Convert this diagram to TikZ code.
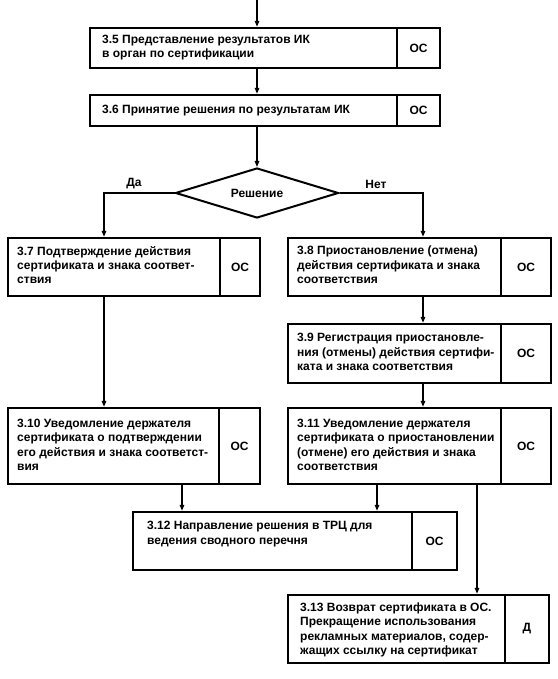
\documentclass[tikz,border=0pt]{standalone}
\usepackage{fontspec}
\setmainfont{Liberation Sans}
\usetikzlibrary{arrows.meta,shapes.geometric}
\begin{document}
\begin{tikzpicture}[x=1pt,y=-1pt,
  box/.style={draw, line width=2.4pt, inner sep=0pt},
  txt/.style={font=\bfseries\fontsize{12}{14.4}\selectfont, align=left, anchor=west, inner sep=0pt},
  lbl/.style={font=\bfseries\fontsize{12}{14.4}\selectfont, inner sep=0pt},
  divider/.style={line width=1.6pt},
  conn/.style={line width=1.4pt},
  arr/.style={line width=1.4pt, -{Triangle[length=6pt,width=4.5pt]}},
  dec/.style={diamond, draw, line width=2pt, aspect=3.2, inner sep=0pt, minimum width=163pt, minimum height=50pt, font=\bfseries\fontsize{12}{14.4}\selectfont}
]
\useasboundingbox (0,0) rectangle (557,679);
\fill[white] (0,0) rectangle (557,679);

% column coordinates
\coordinate (top) at (257,0);
\coordinate (c1) at (104,0);
\coordinate (c2) at (423,0);
\coordinate (c3) at (182,0);
\coordinate (c4) at (377,0);
\coordinate (c5) at (477,0);

% boxes
\node[box, minimum width=350pt, minimum height=40pt] (b35) at (265,48) {};
\node[box, minimum width=350pt, minimum height=31pt] (b36) at (265,110.5) {};
\node[dec] (d) at (257,193) {Решение};
\node[box, minimum width=252pt, minimum height=58pt] (b37) at (134,267) {};
\node[box, minimum width=263pt, minimum height=58pt] (b38) at (419.5,267) {};
\node[box, minimum width=263pt, minimum height=59pt] (b39) at (419.5,353.5) {};
\node[box, minimum width=252pt, minimum height=76pt] (b310) at (134,446) {};
\node[box, minimum width=263pt, minimum height=76pt] (b311) at (419.5,446) {};
\node[box, minimum width=324pt, minimum height=58pt] (b312) at (295,541) {};
\node[box, minimum width=261pt, minimum height=68pt] (b313) at (418.5,629) {};

% dividers
\draw[divider] (397,28) -- (397,68);
\draw[divider] (397,95) -- (397,126);
\draw[divider] (220,238) -- (220,296);
\draw[divider] (501,238) -- (501,296);
\draw[divider] (501,324) -- (501,383);
\draw[divider] (219,408) -- (219,484);
\draw[divider] (501,408) -- (501,484);
\draw[divider] (412,512) -- (412,570);
\draw[divider] (505,595) -- (505,663);

% texts
\node[txt] (t35) at (102,47.5) {3.5 Представление результатов ИК\\в орган по сертификации};
\node[txt] (t36) at (102,110.5) {3.6 Принятие решения по результатам ИК};
\node[txt] (t37) at (17,265) {3.7 Подтверждение действия\\сертификата и знака соответ-\\ствия};
\node[txt] (t38) at (297,265) {3.8 Приостановление (отмена)\\действия сертификата и знака\\соответствия};
\node[txt] (t39) at (297,352) {3.9 Регистрация приостановле-\\ния (отмены) действия сертифи-\\ката и знака соответствия};
\node[txt] (t310) at (17,445) {3.10 Уведомление держателя\\сертификата о подтверждении\\его действия и знака соответст-\\вия};
\node[txt] (t311) at (297,445) {3.11 Уведомление держателя\\сертификата о приостановлении\\(отмене) его действия и знака\\соответствия};
\node[txt] (t312) at (147,534) {3.12 Направление решения в ТРЦ для\\ведения сводного перечня};
\node[txt] (t313) at (300,630) {3.13 Возврат сертификата в ОС.\\Прекращение использования\\рекламных материалов, содер-\\жащих ссылку на сертификат};

% cell labels
\node[lbl] (o35) at (418.5,48) {ОС};
\node[lbl] (o36) at (418.5,110.5) {ОС};
\node[lbl] (o37) at (240,267) {ОС};
\node[lbl] (o38) at (526,267) {ОС};
\node[lbl] (o39) at (526,353.5) {ОС};
\node[lbl] (o310) at (239.5,446) {ОС};
\node[lbl] (o311) at (526,446) {ОС};
\node[lbl] (o312) at (434.5,541) {ОС};
\node[lbl] (o313) at (527,629) {Д};

% branch labels
\node[lbl, anchor=south] (da) at (134,189) {Да};
\node[lbl, anchor=south] (net) at (376,189) {Нет};

% connectors
\draw[arr] (top) -- (b35.north -| top);
\draw[arr] (b35.south -| top) -- (b36.north -| top);
\draw[arr] (b36.south -| d.north) -- (d.north);
\draw[arr] (d.west) -| (b37.north -| c1);
\draw[arr] (d.east) -| (b38.north -| c2);
\draw[arr] (b37.south -| c1) -- (b310.north -| c1);
\draw[arr] (b38.south -| c2) -- (b39.north -| c2);
\draw[arr] (b39.south -| c2) -- (b311.north -| c2);
\draw[arr] (b310.south -| c3) -- (b312.north -| c3);
\draw[arr] (b311.south -| c4) -- (b312.north -| c4);
\draw[arr] (b311.south -| c5) -- (b313.north -| c5);
\end{tikzpicture}
\end{document}
